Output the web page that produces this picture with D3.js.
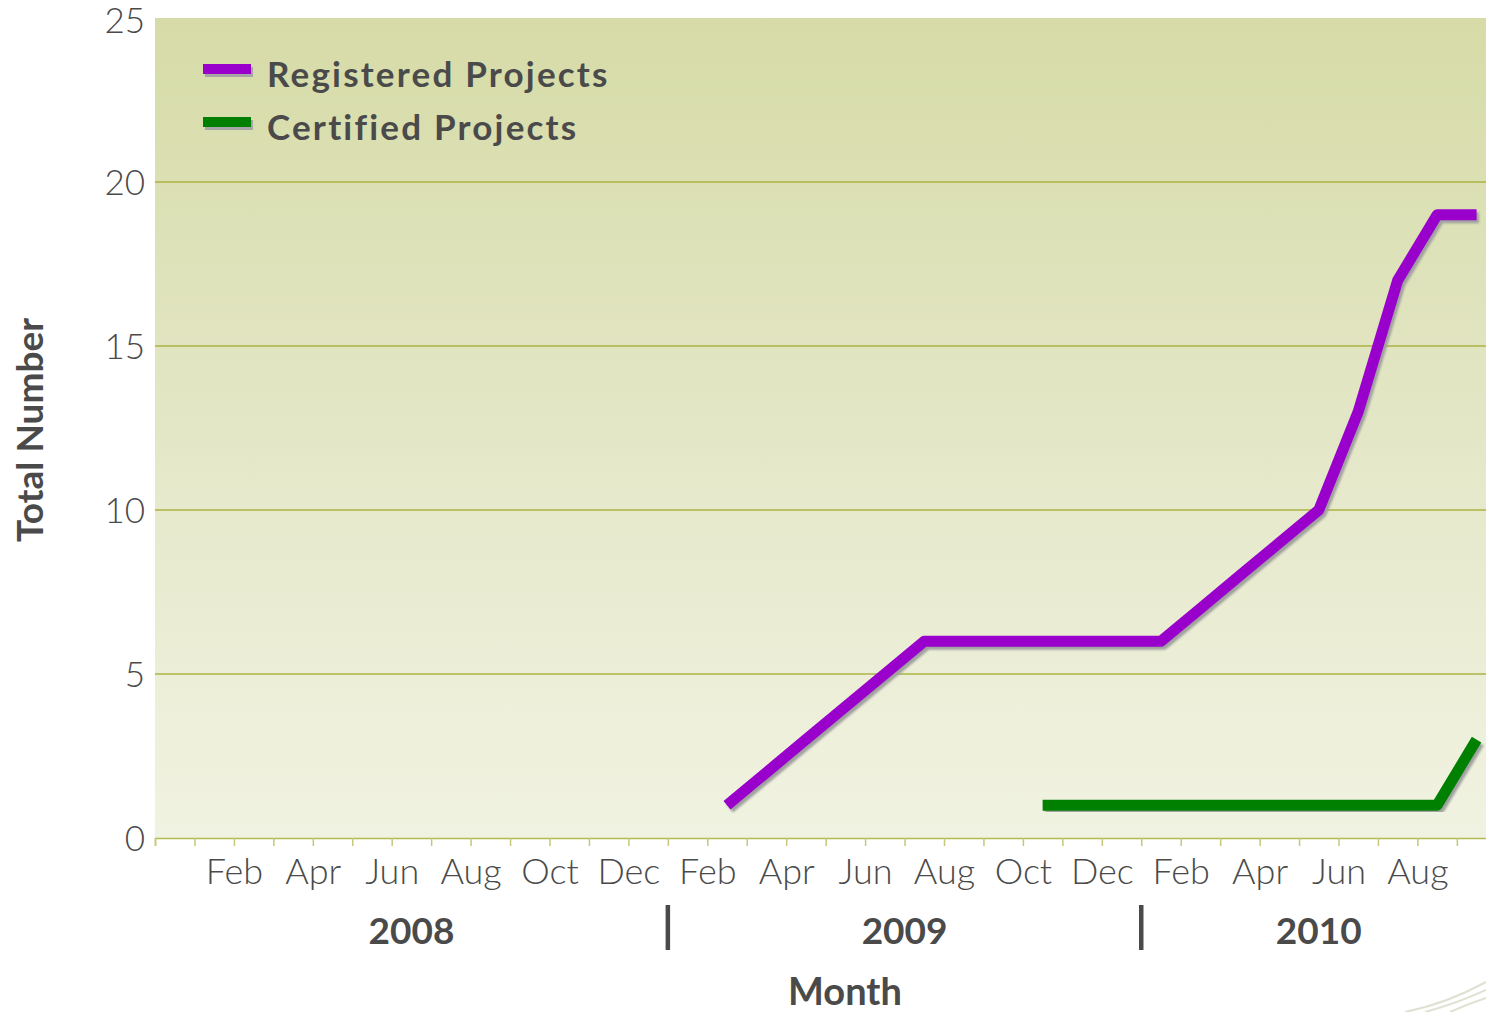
<!DOCTYPE html>
<html>
<head>
<meta charset="utf-8">
<script src="https://cdn.jsdelivr.net/npm/d3@7"></script>
<style>
  body { margin: 0; background: #fff; }
  svg text { font-family: Lato, "Open Sans", sans-serif; }
</style>
</head>
<body>
<div id="chart"></div>
<script>
// month tick labels, shown on every second tick (ticks 2,4,...,32)
const monthLabels = ["Feb","Apr","Jun","Aug","Oct","Dec","Feb","Apr","Jun","Aug","Oct","Dec","Feb","Apr","Jun","Aug"];
// year groups and the tick where each group starts/ends
const years = ["2008","2009","2010"];
const yearBreaks = [0, 13, 25, 34];
const nTicks = 34;

// series: first month slot and monthly totals
const seriesNames = ["Registered Projects","Certified Projects"];
const seriesColors = ["#9900cc","#008000"];
const registeredStart = 14;
const registered = [1,2,3,4,5,6,6,6,6,6,6,6,7,8,9,10,13,17,19,19];
const certifiedStart = 22;
const certified = [1,1,1,1,1,1,1,1,1,1,1,3];
const yTicks = [0,5,10,15,20,25];

var W = 1486, H = 1012;
var margin = {top: 18, left: 155, bottom: 174},
    plotH = H - margin.top - margin.bottom,
    step = 39.45;

const svg = d3.select("#chart").append("svg")
    .attr("width", W)
    .attr("height", H);

const defs = svg.append("defs");
const grad = defs.append("linearGradient")
    .attr("id", "bg").attr("x1", 0).attr("y1", 0).attr("x2", 0).attr("y2", 1);
grad.append("stop").attr("offset", "0%").attr("stop-color", "#d6dba7");
grad.append("stop").attr("offset", "55%").attr("stop-color", "#e5e8c9");
grad.append("stop").attr("offset", "100%").attr("stop-color", "#f1f3e2");

const blur = defs.append("filter").attr("id", "shadow")
    .attr("x", "-5%").attr("y", "-5%").attr("width", "110%").attr("height", "110%");
blur.append("feGaussianBlur").attr("stdDeviation", 0.8);

var x = d3.scaleLinear()
    .domain([0, nTicks])
    .range([margin.left, margin.left + nTicks * step]);

var y = d3.scaleLinear()
    .domain([0, 25])
    .range([margin.top + plotH, margin.top]);

// plot background
svg.append("rect")
    .attr("x", x(0))
    .attr("y", y(25))
    .attr("width", x(nTicks) - x(0))
    .attr("height", y(0) - y(25))
    .attr("fill", "url(#bg)");

// gridlines
svg.append("g")
    .selectAll("line")
    .data(yTicks.filter(d => d > 0 && d < 25))
    .enter().append("line")
    .attr("x1", x(0)).attr("x2", x(nTicks))
    .attr("y1", d => y(d)).attr("y2", d => y(d))
    .attr("stroke", "#abb342")
    .attr("stroke-width", 1.3);

// y axis
const yAxis = svg.append("g")
    .attr("transform", "translate(" + (x(0) - 10) + ",0)")
    .call(d3.axisLeft(y).tickValues(yTicks).tickSize(0).tickPadding(0));
yAxis.select(".domain").remove();
yAxis.selectAll("text")
    .style("font-size", "35px")
    .style("font-weight", 300)
    .attr("fill", "#4a4a4a")
    .attr("dy", d => d === 25 ? "0.42em" : "0.36em");

// x axis
const xAxis = svg.append("g")
    .attr("transform", "translate(0," + y(0) + ")")
    .call(d3.axisBottom(x)
      .tickValues(d3.range(0, nTicks + 1))
      .tickSize(8)
      .tickPadding(12)
      .tickFormat(d => (d % 2 === 0 && d >= 2 && d <= 32) ? monthLabels[d / 2 - 1] : ""));
xAxis.select(".domain").attr("stroke", "#b3ba52").attr("stroke-width", 1.5);
xAxis.selectAll(".tick line").attr("stroke", "#c4c878").attr("stroke-width", 1.5);
xAxis.selectAll("text")
    .style("font-size", "36px")
    .style("font-weight", 300)
    .attr("fill", "#4a4a4a");

// year labels and separators
svg.append("g").selectAll("text")
    .data(years)
    .enter().append("text")
    .attr("x", (d, i) => x((yearBreaks[i] + yearBreaks[i + 1]) / 2))
    .attr("y", 944)
    .attr("text-anchor", "middle")
    .style("font-size", "37px")
    .style("font-weight", 700)
    .attr("fill", "#4a4a4a")
    .text(d => d);

svg.append("g").selectAll("line")
    .data(yearBreaks.slice(1, -1))
    .enter().append("line")
    .attr("x1", d => x(d)).attr("x2", d => x(d))
    .attr("y1", 905).attr("y2", 950)
    .attr("stroke", "#4a4a4a")
    .attr("stroke-width", 4.5);

// axis titles
svg.append("text")
    .attr("x", 845)
    .attr("y", 1005)
    .attr("text-anchor", "middle")
    .style("font-size", "38px")
    .style("font-weight", 700)
    .attr("fill", "#4a4a4a")
    .text("Month");

svg.append("text")
    .attr("transform", "translate(43," + 430 + ") rotate(-90)")
    .attr("text-anchor", "middle")
    .style("font-size", "37px")
    .style("font-weight", 700)
    .attr("fill", "#4a4a4a")
    .text("Total Number");

// lines
var line = d3.line()
    .x(d => x(d.slot + 0.5))
    .y(d => y(d.v));

const series = [
  registered.map((v, i) => ({slot: registeredStart + i, v: v})),
  certified.map((v, i) => ({slot: certifiedStart + i, v: v}))
];

// draw certified first so registered sits on top
[1, 0].forEach(function(s) {
  svg.append("path")
      .datum(series[s])
      .attr("d", line)
      .attr("transform", "translate(2.5,3)")
      .attr("fill", "none")
      .attr("stroke", "#a0a0a0")
      .attr("stroke-width", 11)
      .attr("stroke-linejoin", "round")
      .attr("filter", "url(#shadow)");
  svg.append("path")
      .datum(series[s])
      .attr("d", line)
      .attr("fill", "none")
      .attr("stroke", seriesColors[s])
      .attr("stroke-width", 11)
      .attr("stroke-linejoin", "round");
});

// legend
const legend = svg.append("g");
seriesNames.forEach(function(name, i) {
  var ly = 64 + i * 53;
  legend.append("rect")
      .attr("x", 205).attr("y", ly + 3)
      .attr("width", 48).attr("height", 10)
      .attr("fill", "#a6a6a6");
  legend.append("rect")
      .attr("x", 203).attr("y", ly)
      .attr("width", 48).attr("height", 10)
      .attr("fill", seriesColors[i]);
  legend.append("text")
      .attr("x", 267).attr("y", ly + 23)
      .style("font-size", "35px")
      .style("font-weight", 700)
      .style("letter-spacing", "2.2px")
      .attr("fill", "#4a4a4a")
      .text(name);
});

// template decoration, bottom right
svg.append("g").selectAll("path")
    .data([[1405, 1012, 1486, 982], [1425, 1012, 1486, 990], [1450, 1012, 1486, 998]])
    .enter().append("path")
    .attr("d", d => "M" + d[0] + "," + d[1] + " Q" + ((d[0] + d[2]) / 2) + "," + (d[1] - 8) + " " + d[2] + "," + d[3])
    .attr("fill", "none")
    .attr("stroke", "#dfe2d2")
    .attr("stroke-width", 2);
</script>
</body>
</html>
